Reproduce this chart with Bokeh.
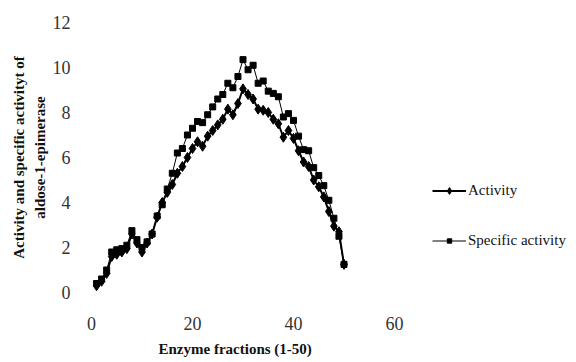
from bokeh.plotting import figure
from bokeh.models import Range1d, FixedTicker, Legend, LegendItem, Title
from bokeh.embed import file_html
from bokeh.resources import INLINE

fractions = list(range(1, 51))
activity = [0.3, 0.5, 0.85, 1.6, 1.7, 1.8, 1.95, 2.6, 2.2, 1.8,
            2.2, 2.6, 3.35, 4.0, 4.45, 4.8, 5.3, 5.6, 6.0, 6.4,
            6.7, 6.5, 6.95, 7.2, 7.45, 7.7, 8.15, 7.9, 8.4, 9.05,
            8.8, 8.6, 8.15, 8.1, 8.0, 7.7, 7.5, 6.9, 7.2, 6.85,
            6.3, 5.8, 5.6, 5.0, 4.7, 4.25, 3.6, 2.95, 2.7, 1.25]
specific = [0.4, 0.6, 1.0, 1.8, 1.9, 1.95, 2.1, 2.75, 2.35, 2.0,
            2.25, 2.6, 3.4, 3.9, 4.6, 5.3, 6.2, 6.4, 7.0, 7.3,
            7.6, 7.55, 7.9, 8.25, 8.6, 8.8, 9.3, 9.1, 9.6, 10.35,
            9.9, 10.1, 9.3, 9.4, 8.95, 8.85, 8.7, 7.8, 7.95, 7.65,
            6.95, 6.35, 6.3, 5.55, 5.2, 4.75, 4.1, 3.3, 2.5, 1.25]
x_ticks = [0, 20, 40, 60]
y_ticks = [0, 2, 4, 6, 8, 10, 12]

FONT = "Liberation Serif"

# frame: left 91, right 566 ; x 0..60 spans 303px, extra range holds the legend
p = figure(width=576, height=362, output_backend="svg", toolbar_location=None,
           x_range=Range1d(0, 60 + 172 / 5.05), y_range=Range1d(0, 12),
           min_border_left=91, min_border_right=10, min_border_top=22, min_border_bottom=69)
p.outline_line_color = None
p.grid.visible = False
p.background_fill_color = "white"

for ax in (p.xaxis[0], p.yaxis[0]):
    ax.axis_line_color = None
    ax.major_tick_line_color = None
    ax.minor_tick_line_color = None
    ax.major_label_text_font = FONT
    ax.major_label_text_font_size = "18px"
    ax.major_label_text_color = "#333333"
    ax.axis_label_text_font = FONT
    ax.axis_label_text_font_style = "bold"
    ax.axis_label_text_font_size = "15px"
    ax.axis_label_text_color = "#111111"

p.xaxis.ticker = FixedTicker(ticks=x_ticks)
p.yaxis.ticker = FixedTicker(ticks=y_ticks)
p.xaxis.major_label_standoff = 18
p.yaxis.major_label_standoff = 15
p.yaxis.axis_label = "Activity and specific activityt of\naldose-1-epimerase"
p.yaxis.axis_label_standoff = 2
p.yaxis.axis_label_text_line_height = 1.27

xtitle = Title(text="Enzyme fractions (1-50)", align="left", offset=67,
               text_font=FONT, text_font_style="bold", text_font_size="15px",
               text_color="#111111", standoff=12)
p.add_layout(xtitle, "below")

l1 = p.line(fractions, activity, line_color="black", line_width=2)
s1 = p.scatter(fractions, activity, marker="diamond", size=10, color="black")
l2 = p.line(fractions, specific, line_color="black", line_width=1)
s2 = p.scatter(fractions, specific, marker="square", size=6, color="black")


def make_legend(label, renderers, loc, gh):
    lg = Legend(items=[LegendItem(label=label, renderers=renderers)], location=loc)
    lg.border_line_color = None
    lg.background_fill_alpha = 0
    lg.padding = 0
    lg.margin = 0
    lg.glyph_width = 34
    lg.glyph_height = gh
    lg.label_height = 20
    lg.label_standoff = 2
    lg.label_text_font = FONT
    lg.label_text_font_size = "15px"
    lg.label_text_color = "#111111"
    return lg


p.add_layout(make_legend("Activity", [l1, s1], (341, 92), 17), "center")
p.add_layout(make_legend("Specific activity", [l2, s2], (341, 42), 11), "center")

open("out.html", "w").write(file_html(p, INLINE))
